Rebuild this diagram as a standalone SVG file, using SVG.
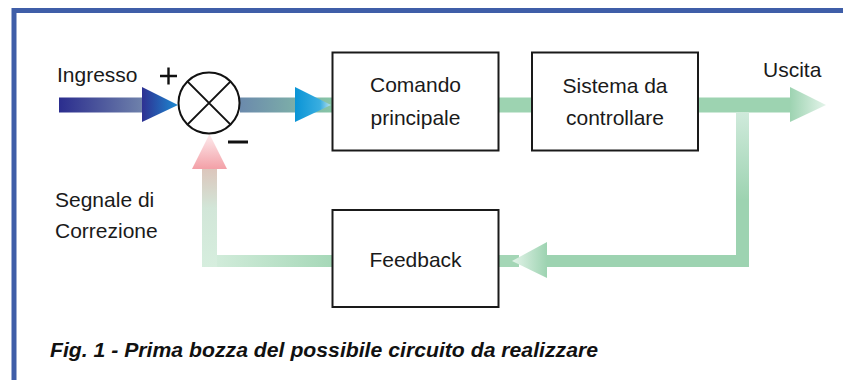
<svg xmlns="http://www.w3.org/2000/svg" width="843" height="380" viewBox="0 0 843 380">
<style>
.lbl{font-family:"Liberation Sans",Arial,Helvetica,sans-serif;font-size:21px;fill:#1a1a1a}
.box{fill:#fff;stroke:#1a1a1a;stroke-width:2}
.cap{font-family:"Liberation Sans",Arial,Helvetica,sans-serif;font-size:20.5px;font-weight:bold;font-style:italic;fill:#111}
</style>
<defs>
<linearGradient id="gIn" x1="59" y1="0" x2="143" y2="0" gradientUnits="userSpaceOnUse"><stop offset="0" stop-color="#2b2d8e"/><stop offset="1" stop-color="#6f82ab"/></linearGradient>
<linearGradient id="gInHead" x1="142" y1="0" x2="178" y2="0" gradientUnits="userSpaceOnUse"><stop offset="0" stop-color="#2e3192"/><stop offset="1" stop-color="#1c8ad2"/></linearGradient>
<linearGradient id="gMid" x1="240" y1="0" x2="332" y2="0" gradientUnits="userSpaceOnUse"><stop offset="0" stop-color="#6b8aac"/><stop offset="1" stop-color="#88c6a6"/></linearGradient>
<linearGradient id="gMidHead" x1="295" y1="0" x2="331" y2="0" gradientUnits="userSpaceOnUse"><stop offset="0" stop-color="#0a94d6"/><stop offset="0.7" stop-color="#3aaee0"/><stop offset="1" stop-color="#b8e2ee"/></linearGradient>
<linearGradient id="gOutHead" x1="790" y1="0" x2="826" y2="0" gradientUnits="userSpaceOnUse"><stop offset="0" stop-color="#9dd3b1"/><stop offset="1" stop-color="#e4f4ea"/></linearGradient>
<linearGradient id="gDown" x1="0" y1="113" x2="0" y2="200" gradientUnits="userSpaceOnUse"><stop offset="0" stop-color="#cfeadb"/><stop offset="1" stop-color="#9dd3b1"/></linearGradient>
<linearGradient id="gBackHead" x1="547" y1="0" x2="512" y2="0" gradientUnits="userSpaceOnUse"><stop offset="0" stop-color="#9dd3b1"/><stop offset="1" stop-color="#e4f4ea"/></linearGradient>
<linearGradient id="gLeft" x1="332" y1="0" x2="202" y2="0" gradientUnits="userSpaceOnUse"><stop offset="0" stop-color="#a6d8b8"/><stop offset="1" stop-color="#d6eede"/></linearGradient>
<linearGradient id="gUp" x1="0" y1="267" x2="0" y2="169" gradientUnits="userSpaceOnUse"><stop offset="0" stop-color="#d6eede"/><stop offset="0.6" stop-color="#d2e6d8"/><stop offset="1" stop-color="#dcc6bc"/></linearGradient>
<linearGradient id="gPink" x1="0" y1="169" x2="0" y2="134" gradientUnits="userSpaceOnUse"><stop offset="0" stop-color="#f3a0a7"/><stop offset="1" stop-color="#fdecee"/></linearGradient>
</defs>
<rect x="0" y="0" width="843" height="380" fill="#fff"/>
<path d="M14 380 V10.5 H843" fill="none" stroke="#3f5ea8" stroke-width="5"/>
<g id="connectors">
<rect x="59" y="97.5" width="84" height="15" fill="url(#gIn)"/>
<polygon points="142,87 178,105 142,122" fill="url(#gInHead)"/>
<rect x="240" y="97.5" width="92" height="15" fill="url(#gMid)"/>
<polygon points="295,87 331,105 295,122" fill="url(#gMidHead)"/>
<rect x="499" y="97.5" width="33" height="15" fill="#9dd3b1"/>
<rect x="697" y="97.5" width="94" height="15" fill="#9dd3b1"/>
<polygon points="790,87 826,105 790,122" fill="url(#gOutHead)"/>
<rect x="736" y="112.5" width="13" height="143" fill="url(#gDown)"/>
<rect x="546" y="255" width="203" height="12" fill="#9dd3b1"/>
<rect x="499" y="255" width="20" height="12" fill="#a4d6b6"/>
<polygon points="547,242 512,261 547,278" fill="url(#gBackHead)"/>
<rect x="202" y="255" width="131" height="12" fill="url(#gLeft)"/>
<rect x="202" y="169" width="15" height="98" fill="url(#gUp)"/>
<polygon points="192,169 227,169 209.5,134" fill="url(#gPink)"/>
</g>
<g id="sum">
<circle cx="209" cy="103" r="30.5" fill="#fff" stroke="#111" stroke-width="2"/>
<path d="M187.4 81.4 L230.6 124.6 M230.6 81.4 L187.4 124.6" stroke="#111" stroke-width="2"/>
<path d="M160 76 H177 M168.5 67.5 V84.5" stroke="#111" stroke-width="2.4"/>
<path d="M228 142 H248" stroke="#111" stroke-width="3"/>
</g>
<g id="comando">
<rect class="box" x="332.5" y="52.5" width="166" height="98"/>
<text class="lbl" x="415.5" y="92" text-anchor="middle">Comando</text>
<text class="lbl" x="415.5" y="125" text-anchor="middle">principale</text>
</g>
<g id="sistema">
<rect class="box" x="532" y="52.5" width="166" height="98"/>
<text class="lbl" x="615" y="93" text-anchor="middle">Sistema da</text>
<text class="lbl" x="615" y="125" text-anchor="middle">controllare</text>
</g>
<g id="feedback">
<rect class="box" x="332.5" y="210" width="166" height="97"/>
<text class="lbl" x="415.5" y="267" text-anchor="middle">Feedback</text>
</g>
<g id="labels">
<text class="lbl" x="57" y="82">Ingresso</text>
<text class="lbl" x="763" y="77">Uscita</text>
<text class="lbl" x="55" y="207">Segnale di</text>
<text class="lbl" x="55" y="238">Correzione</text>
<text class="cap" x="50" y="357" textLength="548" lengthAdjust="spacingAndGlyphs">Fig. 1 - Prima bozza del possibile circuito da realizzare</text>
</g>
</svg>
